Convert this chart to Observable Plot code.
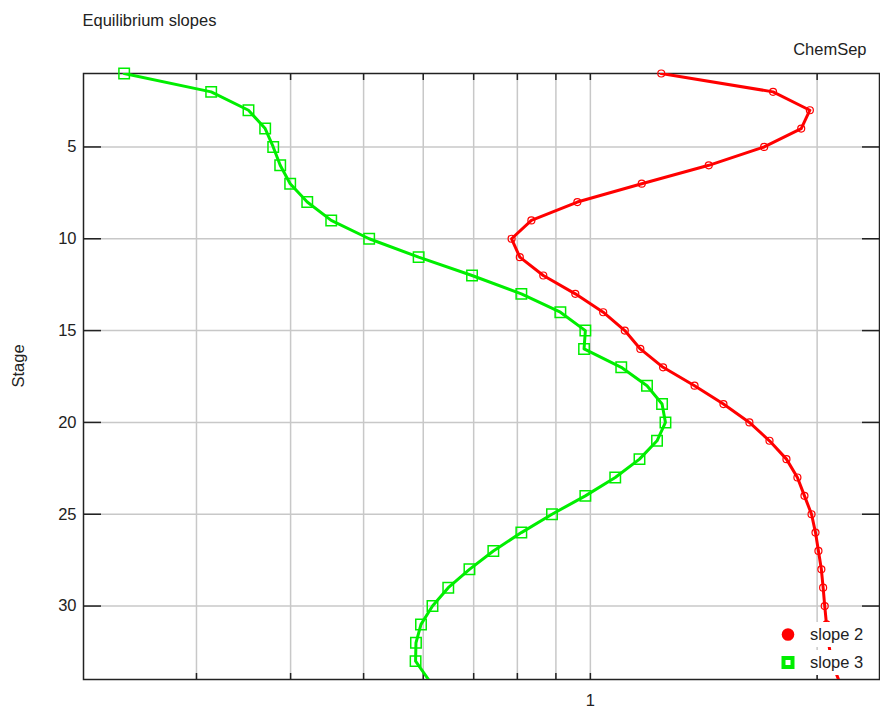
<!DOCTYPE html>
<html><head><meta charset="utf-8">
<script src="https://cdn.jsdelivr.net/npm/d3@7"></script>
<script src="https://cdn.jsdelivr.net/npm/@observablehq/plot@0.6"></script>
<style>
body{margin:0;background:#fff;font-family:"Liberation Sans",Arial,sans-serif;}
#wrap{position:relative;width:880px;height:709px;}
.legend{position:absolute;left:774px;width:98px;height:25px;background:#fff;display:flex;align-items:center;font-size:16.5px;color:#222;}
.legend svg{width:26px;height:25px;margin-right:10px;}
</style></head><body>
<div id="wrap"></div>
<script>
// ---- data ----
const stages = [1,2,3,4,5,6,7,8,9,10,11,12,13,14,15,16,17,18,19,20,21,22,23,24,25,26,27,28,29,30,31,32,33,34];
const slope2 = [1.242,1.748,1.956,1.905,1.701,1.436,1.170,0.961,0.835,0.786,0.806,0.866,0.955,1.040,1.111,1.165,1.249,1.375,1.502,1.626,1.729,1.821,1.883,1.924,1.966,1.990,2.008,2.026,2.037,2.047,2.058,2.071,2.090,2.135];
const slope3 = [0.2405,0.3138,0.3517,0.3701,0.3793,0.3875,0.3995,0.4209,0.4529,0.5086,0.5916,0.6965,0.8098,0.9124,0.9848,0.9809,1.099,1.189,1.245,1.258,1.226,1.162,1.079,0.9848,0.8893,0.8098,0.7434,0.6910,0.6477,0.6172,0.5959,0.5868,0.5861,0.6097];
const seriesNames = ["slope 2","slope 3"];
const seriesColors = ["#ff0000","#00ee00"];
const xGridTicks = [0.3,0.4,0.5,0.6,0.7,0.8,0.9,1,2];
const xLabelTicks = [1];
const yTicks = [5,10,15,20,25,30];
const titleText = "Equilibrium slopes";
const brandText = "ChemSep";
const yLabel = "Stage";

const rows2 = stages.map((s,i)=>({stage:s, v:slope2[i]}));
const rows3 = stages.map((s,i)=>({stage:s, v:slope3[i]}));
const markerRows2 = rows2.filter(d=>d.stage<34);
const markerRows3 = rows3.filter(d=>d.stage<34);

const W=880,H=709,mL=83,mR=1,mT=73,mB=30;
const fw=W-mL-mR, fh=H-mT-mB;
const grid="#c8c8c8", ink="#222";
const fs=16.5;

const chart = Plot.plot({
  width:W, height:H,
  marginLeft:mL, marginRight:mR, marginTop:mT, marginBottom:mB,
  style:{fontFamily:'"Liberation Sans",Arial,sans-serif', fontSize:fs+"px", color:ink, background:"#fff"},
  x:{type:"log", domain:[0.2124,2.42]},
  y:{domain:[1,34], range:[mT, H-mB]},
  marks:[
    Plot.ruleX(xGridTicks,{stroke:grid,strokeWidth:1.5}),
    Plot.ruleY(yTicks,{stroke:grid,strokeWidth:1.5}),
    Plot.ruleX(xGridTicks,{stroke:ink,strokeWidth:1.5,insetBottom:fh-7}),
    Plot.ruleX(xGridTicks,{stroke:ink,strokeWidth:1.5,insetTop:fh-6}),
    Plot.ruleY(yTicks,{stroke:ink,strokeWidth:1.5,insetRight:fw-18}),
    Plot.ruleY(yTicks,{stroke:ink,strokeWidth:1.5,insetLeft:fw-17}),
    Plot.frame({stroke:ink,strokeWidth:1.5}),
    Plot.axisY(yTicks,{tickSize:0,tickPadding:7,label:null,fontSize:fs,fill:ink}),
    Plot.axisX(xLabelTicks,{tickSize:0,tickPadding:15,label:null,tickFormat:d=>String(d),fontSize:fs,fill:ink}),
    Plot.line(rows3,{x:"v",y:"stage",stroke:seriesColors[1],strokeWidth:3,clip:true}),
    Plot.dot(markerRows3,{x:"v",y:"stage",symbol:"square",r:5.9,stroke:seriesColors[1],strokeWidth:1.5,fill:"none"}),
    Plot.line(rows2,{x:"v",y:"stage",stroke:seriesColors[0],strokeWidth:3,clip:true}),
    Plot.dot(markerRows2,{x:"v",y:"stage",symbol:"circle",r:3.5,stroke:seriesColors[0],strokeWidth:1.2,fill:"none"}),
    Plot.text([titleText],{frameAnchor:"top-left",textAnchor:"start",lineAnchor:"middle",dx:-1,dy:-52.5,fontSize:fs,fill:ink}),
    Plot.text([brandText],{frameAnchor:"top-right",textAnchor:"end",lineAnchor:"middle",dx:-13,dy:-23.5,fontSize:fs,fill:ink}),
    Plot.text([yLabel],{frameAnchor:"left",rotate:-90,textAnchor:"middle",lineAnchor:"middle",dx:-65,dy:-10.5,fontSize:fs,fill:ink})
  ]
});
const wrap=document.getElementById("wrap");
wrap.appendChild(chart);

// legend overlay (white boxes as in the reference)
const legendTops=[622,650];
seriesNames.forEach((name,i)=>{
  const div=document.createElement("div");
  div.className="legend";
  div.style.top=legendTops[i]+"px";
  const sym = i===0
    ? `<svg viewBox="0 0 26 25"><circle cx="14" cy="12.5" r="6.3" fill="${seriesColors[0]}"/></svg>`
    : `<svg viewBox="0 0 26 25"><rect x="9.5" y="8" width="9" height="9" fill="none" stroke="${seriesColors[1]}" stroke-width="4"/></svg>`;
  div.innerHTML = sym + `<span>${name}</span>`;
  wrap.appendChild(div);
});
</script>
</body></html>
